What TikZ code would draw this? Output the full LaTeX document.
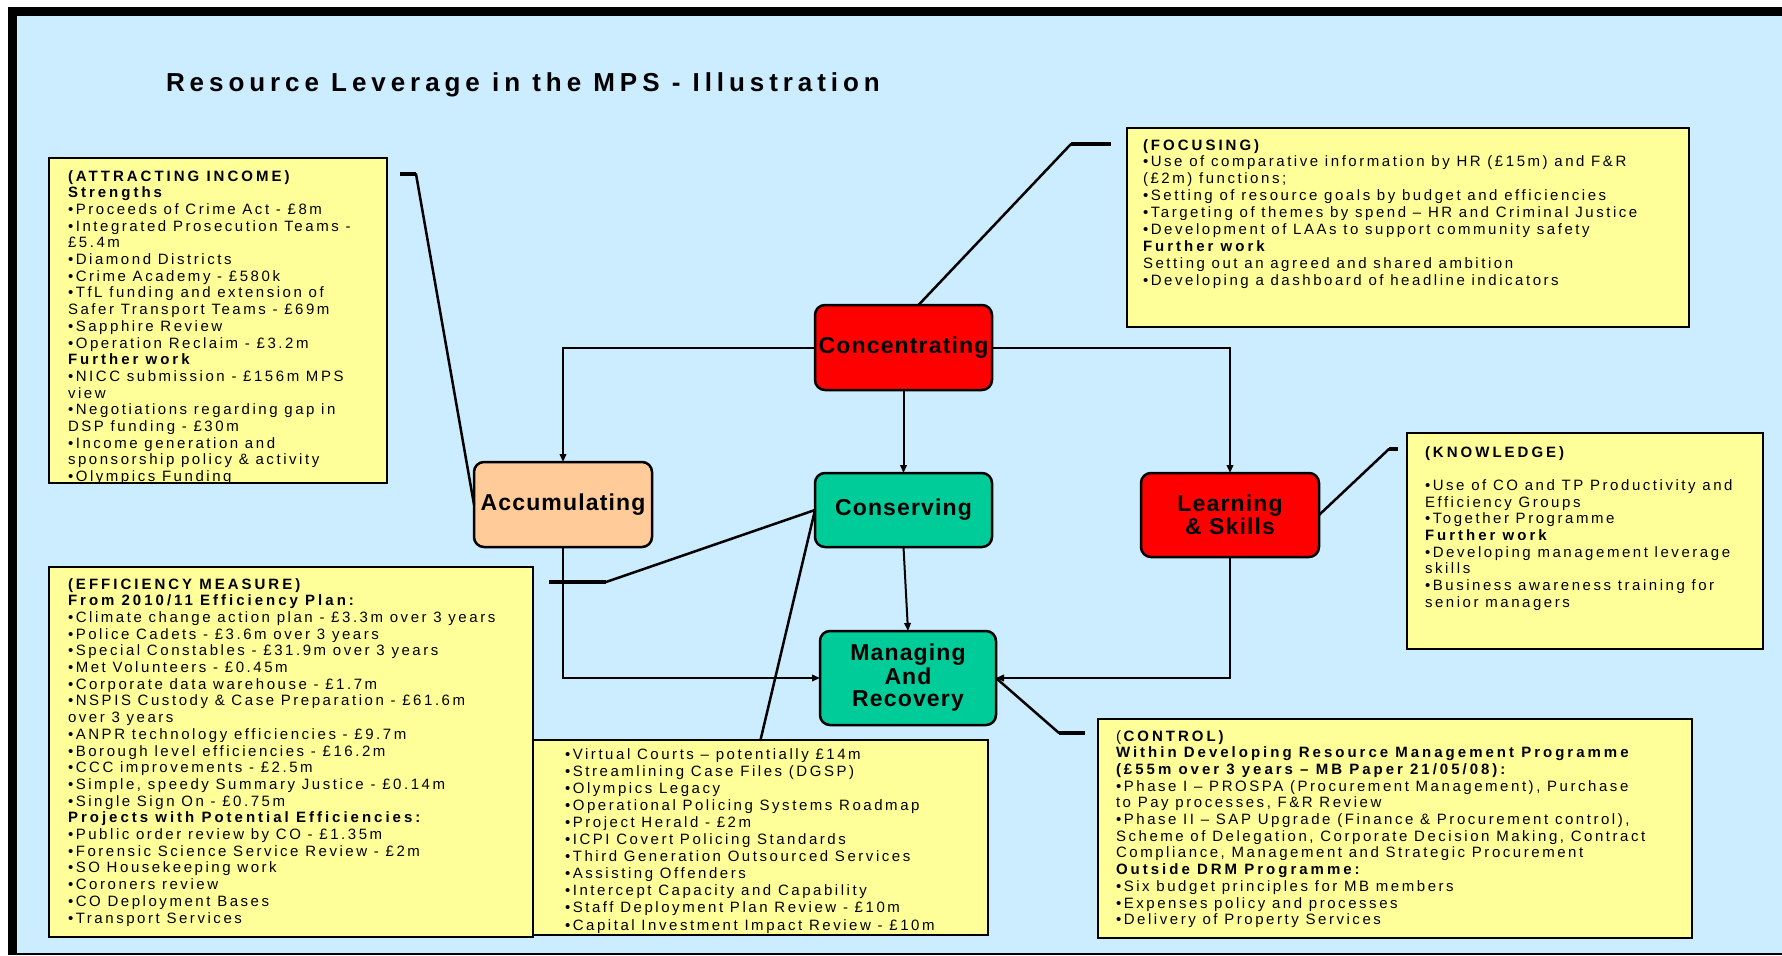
\documentclass[tikz,border=0pt]{standalone}
\usepackage{fontspec}
\setmainfont{Liberation Sans}
\newfontfamily\bodyfont{Liberation Sans}[LetterSpace=17, BoldFeatures={LetterSpace=20}]
\newfontfamily\titlefont{Liberation Sans}[LetterSpace=19]
\newfontfamily\labelfont{Liberation Sans}[LetterSpace=5]
\usetikzlibrary{arrows.meta}
\definecolor{bgblue}{HTML}{CCECFF}
\definecolor{boxyellow}{HTML}{FFFF99}
\definecolor{nodered}{HTML}{FF0000}
\definecolor{nodeteal}{HTML}{00CC99}
\definecolor{nodepeach}{HTML}{FFCC99}
\definecolor{baseline}{HTML}{806040}
\newcommand{\rowtext}[1]{\hbox{#1}}
\newcommand{\bodytext}[2][16.7]{\bodyfont\fontsize{15bp}{#1bp}\selectfont\lineskiplimit=-20bp\vtop{#2}}
\tikzset{
  ybox/.style={draw=black, line width=2.5bp, fill=boxyellow, rectangle, inner sep=0pt, outer sep=0pt},
  mbox/.style={draw=black, line width=2.5bp, rounded corners=10bp, rectangle, inner sep=0pt, outer sep=0pt, align=center,
    font=\labelfont\bfseries\fontsize{23bp}{21.5bp}\selectfont},
  txt/.style={inner sep=0pt, outer sep=0pt, anchor=base west},
  flow/.style={line width=2bp, -{Triangle[length=8bp,width=6.5bp]}},
  callout/.style={line width=2.5bp, line cap=round},
  stub/.style={line width=3.5bp},
}
\begin{document}
\begin{tikzpicture}[x=1bp, y=-1bp]
\useasboundingbox (0,0) rectangle (1782,955);
% frame and background
\fill[white] (0,0) rectangle (1782,955);
\fill[black] (8,7) rectangle (1782,955);
\fill[bgblue] (17,16) rectangle (1782,953);
\fill[baseline] (17,953) rectangle (1782,955);

% title
\node[txt] (title) at (166,91) {\titlefont\bfseries\fontsize{26bp}{30bp}\selectfont Resource Leverage in the MPS - Illustration};

% yellow boxes
\node[ybox, minimum width=338bp, minimum height=325bp] (attr) at (218,320.5) {};
\node[ybox, minimum width=562bp, minimum height=199bp] (focus) at (1408,227.5) {};
\node[ybox, minimum width=356bp, minimum height=216bp] (know) at (1585,541) {};
\node[ybox, minimum width=484bp, minimum height=370bp] (eff) at (291,752) {};
\node[ybox, minimum width=455bp, minimum height=195bp] (mid) at (760.5,837.5) {};
\node[ybox, minimum width=594bp, minimum height=219bp] (ctrl) at (1395,828.5) {};

% main nodes
\node[mbox, fill=nodered, minimum width=177bp, minimum height=85bp] (conc) at (903.5,347.5) {Concentrating};
\node[mbox, fill=nodepeach, minimum width=178bp, minimum height=85bp] (acc) at (563,504.5) {Accumulating};
\node[mbox, fill=nodeteal, minimum width=177bp, minimum height=74bp] (cons) at (903.5,510) {Conserving};
\node[mbox, fill=nodered, minimum width=178bp, minimum height=84bp] (learn) at (1230,515) {Learning\\\& Skills};
\node[mbox, fill=nodeteal, minimum width=176bp, minimum height=94bp] (man) at (908,678) {\raisebox{-3bp}{\vbox{\halign{\hfil#\hfil\cr Managing\cr\noalign{\vskip1bp}And\cr\noalign{\vskip1bp}Recovery\cr}}}};

% texts
\begin{scope}
\clip (attr.north west) rectangle (attr.south east);
\node[txt] (attrtxt) at (68,181) {\bodytext{%
\rowtext{\bfseries (ATTRACTING INCOME)}
\rowtext{\bfseries Strengths}
\rowtext{•Proceeds of Crime Act - £8m}
\rowtext{•Integrated Prosecution Teams -}
\rowtext{£5.4m}
\rowtext{•Diamond Districts}
\rowtext{•Crime Academy - £580k}
\rowtext{•TfL funding and extension of}
\rowtext{Safer Transport Teams - £69m}
\rowtext{•Sapphire Review}
\rowtext{•Operation Reclaim - £3.2m}
\rowtext{\bfseries Further work}
\rowtext{•NICC submission - £156m MPS}
\rowtext{view}
\rowtext{•Negotiations regarding gap in}
\rowtext{DSP funding - £30m}
\rowtext{•Income generation and}
\rowtext{sponsorship policy \& activity}
\rowtext{•Olympics Funding}}};
\end{scope}
\draw[line width=2.5bp] (attr.north west) rectangle (attr.south east);

\node[txt] (focustxt) at (1143,150) {\bodytext[16.9]{%
\rowtext{\bfseries (FOCUSING)}
\rowtext{•Use of comparative information by HR (£15m) and F\&R}
\rowtext{(£2m) functions;}
\rowtext{•Setting of resource goals by budget and efficiencies}
\rowtext{•Targeting of themes by spend – HR and Criminal Justice}
\rowtext{•Development of LAAs to support community safety}
\rowtext{\bfseries Further work}
\rowtext{Setting out an agreed and shared ambition}
\rowtext{•Developing a dashboard of headline indicators}}};

\node[txt] (knowtxt) at (1425,457) {\bodytext{%
\rowtext{\bfseries (KNOWLEDGE)}
\rowtext{}
\rowtext{•Use of CO and TP Productivity and}
\rowtext{Efficiency Groups}
\rowtext{•Together Programme}
\rowtext{\bfseries Further work}
\rowtext{•Developing management leverage}
\rowtext{skills}
\rowtext{•Business awareness training for}
\rowtext{senior managers}}};

\node[txt] (efftxt) at (68,589) {\bodytext{%
\rowtext{\bfseries (EFFICIENCY MEASURE)}
\rowtext{\bfseries From 2010/11 Efficiency Plan:}
\rowtext{•Climate change action plan - £3.3m over 3 years}
\rowtext{•Police Cadets - £3.6m over 3 years}
\rowtext{•Special Constables - £31.9m over 3 years}
\rowtext{•Met Volunteers - £0.45m}
\rowtext{•Corporate data warehouse - £1.7m}
\rowtext{•NSPIS Custody \& Case Preparation - £61.6m}
\rowtext{over 3 years}
\rowtext{•ANPR technology efficiencies - £9.7m}
\rowtext{•Borough level efficiencies - £16.2m}
\rowtext{•CCC improvements - £2.5m}
\rowtext{•Simple, speedy Summary Justice - £0.14m}
\rowtext{•Single Sign On - £0.75m}
\rowtext{\bfseries Projects with Potential Efficiencies:}
\rowtext{•Public order review by CO - £1.35m}
\rowtext{•Forensic Science Service Review - £2m}
\rowtext{•SO Housekeeping work}
\rowtext{•Coroners review}
\rowtext{•CO Deployment Bases}
\rowtext{•Transport Services}}};

\node[txt] (midtxt) at (565,759) {\bodytext[17.1]{%
\rowtext{•Virtual Courts – potentially £14m}
\rowtext{•Streamlining Case Files (DGSP)}
\rowtext{•Olympics Legacy}
\rowtext{•Operational Policing Systems Roadmap}
\rowtext{•Project Herald - £2m}
\rowtext{•ICPI Covert Policing Standards}
\rowtext{•Third Generation Outsourced Services}
\rowtext{•Assisting Offenders}
\rowtext{•Intercept Capacity and Capability}
\rowtext{•Staff Deployment Plan Review - £10m}
\rowtext{•Capital Investment Impact Review - £10m}}};

\node[txt] (ctrltxt) at (1116,741) {\bodytext[16.7]{%
\rowtext{(\textbf{CONTROL)}}
\rowtext{\bfseries Within Developing Resource Management Programme}
\rowtext{\bfseries (£55m over 3 years – MB Paper 21/05/08):}
\rowtext{•Phase I – PROSPA (Procurement Management), Purchase}
\rowtext{to Pay processes, F\&R Review}
\rowtext{•Phase II – SAP Upgrade (Finance \& Procurement control),}
\rowtext{Scheme of Delegation, Corporate Decision Making, Contract}
\rowtext{Compliance, Management and Strategic Procurement}
\rowtext{\bfseries Outside DRM Programme:}
\rowtext{•Six budget principles for MB members}
\rowtext{•Expenses policy and processes}
\rowtext{•Delivery of Property Services}}};

% flow connectors
\draw[flow] (conc.west) -| (acc.north);
\draw[flow] (conc.south) -- (cons.north);
\draw[flow] (conc.east) -| (learn.north);
\draw[flow] (cons.south) -- (man.north);
\draw[flow] (acc.south) |- (man.west);
\draw[flow] (learn.south) |- (man.east);

% callouts
\coordinate (a1) at (416,174); \coordinate (a2) at (400,174);
\draw[callout] (acc.west) -- (a1); \draw[stub] (a1) -- (a2);
\coordinate (f1) at (1071,144); \coordinate (f2) at (1111,144);
\draw[callout] ([xshift=15bp]conc.north) -- (f1); \draw[stub] (f1) -- (f2);
\coordinate (k1) at (1389,449); \coordinate (k2) at (1398,449);
\draw[callout] (learn.east) -- (k1); \draw[stub] (k1) -- (k2);
\coordinate (e1) at (606,582); \coordinate (e2) at (549,582);
\draw[callout] (cons.west) -- (e1); \draw[stub] (e1) -- (e2);
\draw[callout] (cons.west) -- (mid.north);
\coordinate (c1) at (1059,733); \coordinate (c2) at (1085,733);
\draw[callout] (man.east) -- (c1); \draw[stub] (c1) -- (c2);
\end{tikzpicture}
\end{document}
